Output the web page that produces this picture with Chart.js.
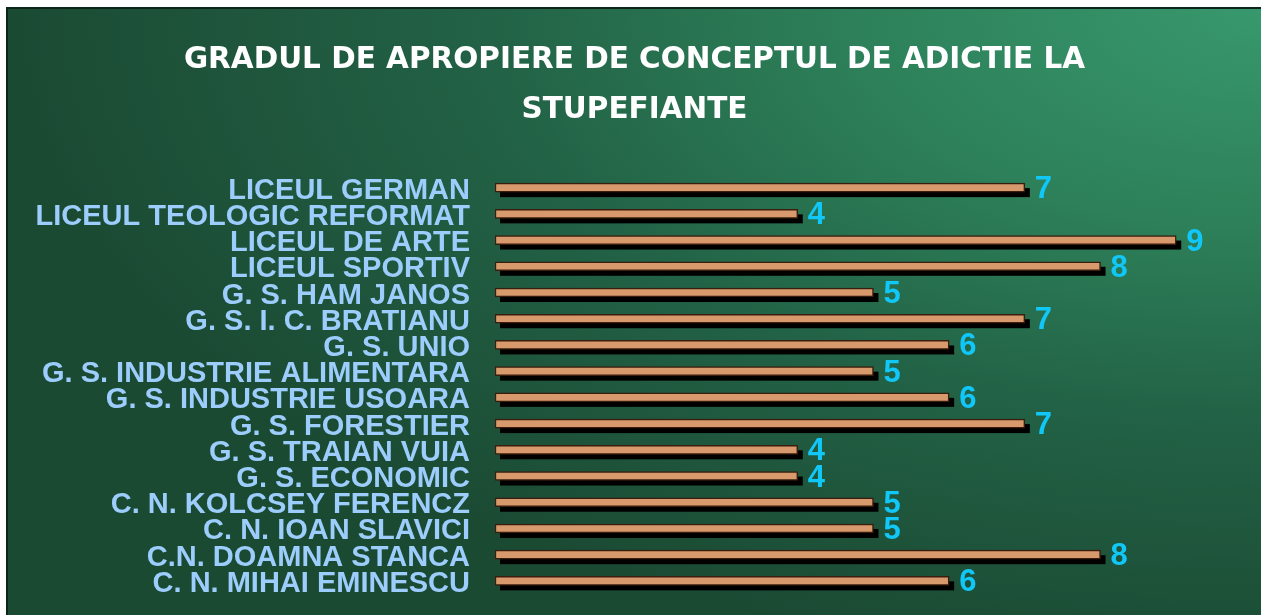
<!DOCTYPE html>
<html>
<head>
<meta charset="utf-8">
<script src="https://cdn.jsdelivr.net/npm/chart.js@4"></script>
<style>
  html, body { margin: 0; padding: 0; background: #fff; }
  #panel {
    position: absolute; left: 6px; top: 7px; width: 1253px; height: 606px;
    border-left: 2px solid #0d2418; border-top: 2px solid #0d2418;
    background: radial-gradient(ellipse 1250px 660px at 100% 0%, #38986d 0%, #2d8059 33%, #226246 62%, #1b4a33 100%);
  }
  #chart { display: block; }
</style>
</head>
<body>
<div id="panel"><canvas id="chart" width="1253" height="606"></canvas></div>
<script>
const schools = [
    'LICEUL GERMAN',
    'LICEUL TEOLOGIC REFORMAT',
    'LICEUL DE ARTE',
    'LICEUL SPORTIV',
    'G. S. HAM JANOS',
    'G. S. I. C. BRATIANU',
    'G. S. UNIO',
    'G. S. INDUSTRIE ALIMENTARA',
    'G. S. INDUSTRIE USOARA',
    'G. S. FORESTIER',
    'G. S. TRAIAN VUIA',
    'G. S. ECONOMIC',
    'C. N. KOLCSEY FERENCZ',
    'C. N. IOAN SLAVICI',
    'C.N. DOAMNA STANCA',
    'C. N. MIHAI EMINESCU'
];
const scores = [7, 4, 9, 8, 5, 7, 6, 5, 6, 7, 4, 4, 5, 5, 8, 6];
const titleLines = ['GRADUL DE APROPIERE DE CONCEPTUL DE ADICTIE LA', 'STUPEFIANTE'];

// black drop shadow under each bar, taken from the bar elements
const barShadow = {
    id: 'barShadow',
    beforeDatasetsDraw(chart) {
        const ctx = chart.ctx;
        ctx.save();
        ctx.fillStyle = '#000';
        chart.getDatasetMeta(0).data.forEach(bar => {
            const h = bar.height;
            ctx.fillRect(bar.base + 5, bar.y - h / 2 + 5, bar.x - bar.base, h);
        });
        ctx.restore();
    }
};

// value numbers at the end of each bar
const valueLabels = {
    id: 'valueLabels',
    afterDatasetsDraw(chart) {
        const ctx = chart.ctx;
        ctx.save();
        ctx.fillStyle = '#10c7f8';
        ctx.font = 'bold 31px "Liberation Sans", Arial, sans-serif';
        ctx.textAlign = 'left';
        ctx.textBaseline = 'middle';
        chart.getDatasetMeta(0).data.forEach((bar, i) => {
            ctx.fillText(String(scores[i]), bar.x + 10, bar.y + 2);
        });
        ctx.restore();
    }
};

const ctx = document.getElementById('chart').getContext('2d');
new Chart(ctx, {
    type: 'bar',
    data: {
        labels: schools,
        datasets: [{
            data: scores,
            backgroundColor: '#d89a6c',
            borderColor: '#3a1d0c',
            borderWidth: 1.5,
            borderSkipped: false,
            barThickness: 9
        }]
    },
    options: {
        indexAxis: 'y',
        responsive: false,
        animation: false,
        layout: { padding: { top: 0, right: 0, bottom: 21, left: 0 } },
        plugins: {
            legend: { display: false },
            tooltip: { enabled: false },
            title: {
                display: true,
                text: titleLines,
                color: '#ffffff',
                font: { family: '"DejaVu Sans", sans-serif', size: 29.5, weight: 'bold', lineHeight: 1.67 },
                padding: { top: 27, bottom: 40 }
            }
        },
        scales: {
            x: {
                display: false,
                min: 0,
                max: 10.12
            },
            y: {
                // invisible tick marks keep the labels 25px off the bars
                grid: { display: true, drawOnChartArea: false, drawTicks: true, tickLength: 25, color: 'rgba(0,0,0,0)' },
                border: { display: false },
                afterFit(scale) { scale.width = 487; },
                ticks: {
                    autoSkip: false,
                    padding: 0,
                    labelOffset: 3,
                    color: '#9dcdfc',
                    font: { family: '"Liberation Sans", Arial, sans-serif', size: 29, weight: 'bold' }
                }
            }
        }
    },
    plugins: [barShadow, valueLabels]
});
</script>
</body>
</html>
